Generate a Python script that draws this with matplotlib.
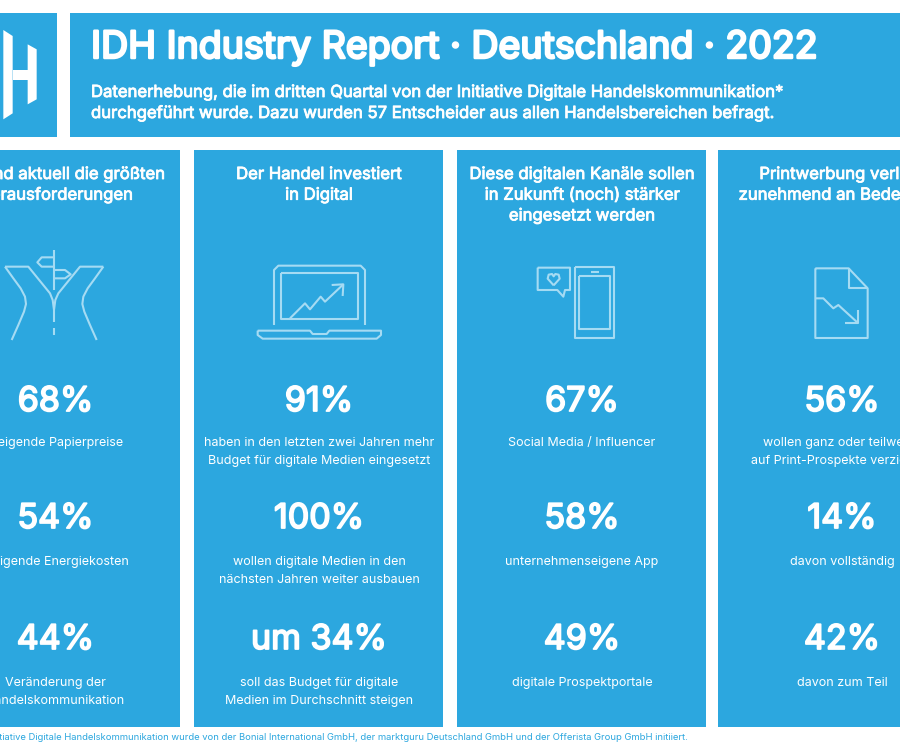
import matplotlib
matplotlib.use("Agg")
import matplotlib.pyplot as plt
import matplotlib.patheffects as pe
from matplotlib.patches import Rectangle, Polygon

BLUE = '#2ca7df'
ICON = '#a5dbf3'

title = 'IDH Industry Report · Deutschland · 2022'
subtitle = ['Datenerhebung, die im dritten Quartal von der Initiative Digitale Handelskommunikation*',
            'durchgeführt wurde. Dazu wurden 57 Entscheider aus allen Handelsbereichen befragt.']
footnote = '*Die Initiative Digitale Handelskommunikation wurde von der Bonial International GmbH, der marktguru Deutschland GmbH und der Offerista Group GmbH initiiert.'

headings = ['Das sind aktuell die größten\nHerausforderungen',
            'Der Handel investiert\nin Digital',
            'Diese digitalen Kanäle sollen\nin Zukunft (noch) stärker\neingesetzt werden',
            'Printwerbung verliert\nzunehmend an Bedeutung']
values = [['68%', '54%', '44%'],
          ['91%', '100%', 'um 34%'],
          ['67%', '58%', '49%'],
          ['56%', '14%', '42%']]
labels = [['steigende Papierpreise', 'steigende Energiekosten', 'Veränderung der\nHandelskommunikation'],
          ['haben in den letzten zwei Jahren mehr\nBudget für digitale Medien eingesetzt',
           'wollen digitale Medien in den\nnächsten Jahren weiter ausbauen',
           'soll das Budget für digitale\nMedien im Durchschnitt steigen'],
          ['Social Media / Influencer', 'unternehmenseigene App', 'digitale Prospektportale'],
          ['wollen ganz oder teilweise\nauf Print-Prospekte verzichten', 'davon vollständig', 'davon zum Teil']]

plt.rcParams['font.family'] = ['Inter', 'DejaVu Sans']

fig = plt.figure(figsize=(9, 7.5), dpi=100)
ax = fig.add_axes([0, 0, 1, 1])
ax.set_xlim(0, 900)
ax.set_ylim(750, 0)
ax.axis('off')


def box(x0, y0, x1, y1):
    ax.add_patch(Rectangle((x0, y0), x1 - x0, y1 - y0, fc=BLUE, ec='none'))


# Inter only comes in one weight here, a thin outline makes it bolder
def heavy(x, y, s, size, stroke, ha='center'):
    t = ax.text(x, y, s, color='white', fontsize=size, ha=ha, va='center')
    t.set_path_effects([pe.withStroke(linewidth=stroke, foreground='white')])


# icon points were read from the 3x zoom, so divide by 3 here
def line(pts, dx=0, closed=False):
    xs = [p[0] / 3 + dx for p in pts]
    ys = [p[1] / 3 for p in pts]
    if closed:
        xs.append(xs[0])
        ys.append(ys[0])
    ax.plot(xs, ys, color=ICON, lw=1.5, solid_joinstyle='round', solid_capstyle='butt')


box(-5, 13, 56.5, 137)
box(70, 13, 905, 137)
for x0 in [-69, 194, 457, 717.5]:
    box(x0, 150, x0 + 249, 727)

# logo
for pts in [[(10, 90), (38, 108), (38, 340), (10, 358)],
            [(83, 133), (110, 148), (110, 298), (83, 313)],
            [(38, 210), (83, 210), (83, 240), (38, 240)]]:
    ax.add_patch(Polygon([(a / 3, b / 3) for a, b in pts], fc='white', ec='none'))

heavy(91, 48, title, 27, 1.8, ha='left')
heavy(91, 92.5, subtitle[0], 12, 0.6, ha='left')
heavy(91, 113.5, subtitle[1], 12, 0.6, ha='left')

centers = [55.5, 319, 582, 842]
value_y = [402, 519, 640]
label_y = [443, 562, 683]
for c, head, vals, labs in zip(centers, headings, values, labels):
    for i, h in enumerate(head.split('\n')):
        heavy(c, 174.5 + i * 20.7, h, 12, 0.6)
    for y, v in zip(value_y, vals):
        heavy(c, y, v, 24.5, 1.3)
    for y, l in zip(label_y, labs):
        for i, part in enumerate(l.split('\n')):
            ax.text(c, y + i * 18, part, color='white', fontsize=9, ha='center', va='center')

ax.text(-33, 738, footnote, color=BLUE, fontsize=6.77, ha='left', va='center')

# road icon
line([(15, 800), (40, 835), (62, 865), (75, 890), (78, 912), (72, 935), (55, 975), (35, 1020)])
line([(310, 800), (285, 835), (263, 865), (250, 890), (247, 912), (253, 935), (270, 975), (290, 1020)])
line([(15, 800), (85, 800), (150, 880), (158, 900), (162, 930), (166, 900), (175, 880), (240, 800), (310, 800)])
line([(162, 750), (162, 870)])
line([(162, 930), (162, 965)])
line([(162, 985), (162, 1005)])
line([(162, 772), (125, 772), (112, 787), (125, 800), (162, 800)])
line([(162, 810), (195, 810), (212, 823), (195, 835), (162, 835)])

# laptop icon
line([(822, 975), (822, 810), (835, 797), (1082, 797), (1095, 810), (1095, 975)])
line([(843, 818), (1073, 818), (1073, 958), (843, 958)], closed=True)
line([(773, 992), (930, 992), (938, 1002), (980, 1002), (988, 992), (1143, 992), (1143, 1005),
      (1130, 1016), (788, 1016), (773, 1005)], closed=True)
line([(870, 955), (915, 910), (930, 928), (962, 890), (975, 905), (1030, 853)])
line([(995, 855), (1030, 853), (1028, 888)])

# phone and speech bubble
line([(374, 802), (493, 802), (493, 1014), (374, 1014)], dx=450, closed=True)
line([(388, 828), (481, 828), (481, 988), (388, 988)], dx=450, closed=True)
line([(422, 815), (448, 815)], dx=450)
line([(263, 803), (360, 803), (360, 870), (345, 870), (340, 890), (322, 870), (263, 870)], dx=450, closed=True)
line([(311, 856), (293, 836), (296, 824), (306, 822), (311, 829), (316, 822), (326, 824), (329, 836)], dx=450, closed=True)

# document with falling chart
line([(1096, 805), (1196, 805), (1253, 865), (1253, 1014), (1096, 1014)], dx=450, closed=True)
line([(1196, 805), (1196, 865), (1253, 865)], dx=450)
line([(1096, 895), (1120, 895), (1150, 925), (1165, 915), (1225, 970)], dx=450)
line([(1225, 930), (1225, 970), (1185, 970)], dx=450)

fig.savefig('out.png', dpi=100, facecolor='white')
